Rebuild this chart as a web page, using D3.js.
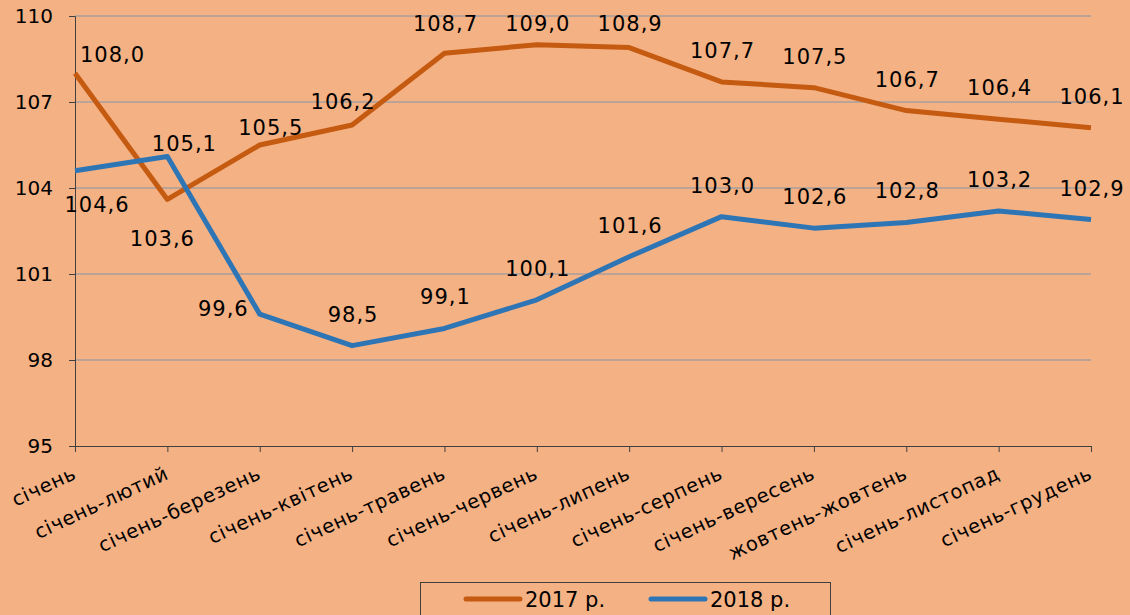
<!DOCTYPE html>
<html>
<head>
<meta charset="utf-8">
<script src="https://cdn.jsdelivr.net/npm/d3@7"></script>
<style>
  body { margin: 0; background: #F4B183; }
  svg { display: block; font-family: "DejaVu Sans", Verdana, sans-serif; }
</style>
</head>
<body>
<svg id="chart"></svg>
<script>
// Категорії (підписи осі X)
const categories = ["січень", "січень-лютий", "січень-березень", "січень-квітень", "січень-травень",
  "січень-червень", "січень-липень", "січень-серпень", "січень-вересень", "жовтень-жовтень",
  "січень-листопад", "січень-грудень"];
const values2017 = [108.0, 103.6, 105.5, 106.2, 108.7, 109.0, 108.9, 107.7, 107.5, 106.7, 106.4, 106.1];
const values2018 = [104.6, 105.1, 99.6, 98.5, 99.1, 100.1, 101.6, 103.0, 102.6, 102.8, 103.2, 102.9];
const yTicks = [95, 98, 101, 104, 107, 110];

// зсуви підписів даних відносно точки [dx, dy, anchor]; за замовчуванням — над точкою
const labelDefault = [1, -24, "middle"];
const labelShift2017 = { 0: [5, -11, "start"], 1: [-5, 47, "middle"], 2: [11, -10, "middle"], 3: [-9, -16, "middle"] };
const labelShift2018 = { 0: [22, 41, "middle"], 1: [17, -5, "middle"], 2: [-11, 2, "end"] };

const width = 1130, height = 615;
const plotLeft = 75, plotRight = 1091, plotTop = 16, plotBottom = 446;

const svg = d3.select("#chart").attr("width", width).attr("height", height);
svg.append("rect").attr("width", width).attr("height", height).attr("fill", "#F4B183");

const x = d3.scalePoint().domain(categories).range([plotLeft, plotRight]);
const y = d3.scaleLinear().domain([95, 110]).range([plotBottom, plotTop]);

// сітка
svg.append("g").selectAll("line").data(yTicks.filter(d => d > 95)).join("line")
  .attr("x1", plotLeft).attr("x2", plotRight)
  .attr("y1", d => y(d)).attr("y2", d => y(d))
  .attr("stroke", "#8094aa").attr("stroke-width", 1);

// вісь Y
const yAxis = svg.append("g").attr("transform", `translate(${plotLeft},0)`)
  .call(d3.axisLeft(y).tickValues(yTicks).tickSize(6).tickPadding(16).tickFormat(d3.format("d")));
yAxis.select(".domain").attr("stroke", "#404040");
yAxis.selectAll(".tick line").attr("stroke", "#404040");
yAxis.selectAll("text").attr("font-size", 20).attr("fill", "#000")
  .attr("font-family", "DejaVu Sans").attr("font-weight", "normal");

// вісь X
const xAxis = svg.append("g").attr("transform", `translate(0,${plotBottom})`)
  .call(d3.axisBottom(x).tickSize(6).tickSizeOuter(0));
xAxis.select(".domain").attr("stroke", "#404040");
xAxis.selectAll(".tick line").attr("stroke", "#404040");
xAxis.selectAll("text")
  .attr("font-size", 19.5).attr("fill", "#000").attr("font-family", "DejaVu Sans")
  .attr("font-weight", "normal").attr("letter-spacing", 0.7)
  .attr("text-anchor", "end")
  .attr("y", 0).attr("dy", 0)
  .attr("transform", "translate(2,32) rotate(-25)");

const line = d3.line().x((d, i) => x(categories[i])).y(d => y(d));

function drawSeries(vals, color, shifts) {
  svg.append("path").datum(vals)
    .attr("d", line)
    .attr("fill", "none")
    .attr("stroke", color)
    .attr("stroke-width", 5)
    .attr("stroke-linejoin", "round");

  const sh = i => shifts[i] || labelDefault;
  svg.append("g").selectAll("text").data(vals).join("text")
    .attr("x", (d, i) => x(categories[i]) + sh(i)[0])
    .attr("y", (d, i) => Math.max(y(d) + sh(i)[1], 31))
    .attr("text-anchor", (d, i) => sh(i)[2])
    .attr("font-size", 21)
    .attr("letter-spacing", 1)
    .attr("fill", "#000")
    .text(d => d3.format(".1f")(d).replace(".", ","));
}

drawSeries(values2017, "#C55A11", labelShift2017);
drawSeries(values2018, "#2E75B6", labelShift2018);

// легенда
const legend = svg.append("g");
legend.append("rect").attr("x", 420.5).attr("y", 582.5).attr("width", 410).attr("height", 50)
  .attr("fill", "none").attr("stroke", "#404040");
const items = [{ name: "2017 р.", color: "#C55A11", x: 466 }, { name: "2018 р.", color: "#2E75B6", x: 651 }];
items.forEach(it => {
  legend.append("line").attr("x1", it.x).attr("x2", it.x + 54).attr("y1", 599).attr("y2", 599)
    .attr("stroke", it.color).attr("stroke-width", 5).attr("stroke-linecap", "round");
  legend.append("text").attr("x", it.x + 59).attr("y", 607).attr("font-size", 21).attr("fill", "#000").text(it.name);
});
</script>
</body>
</html>
